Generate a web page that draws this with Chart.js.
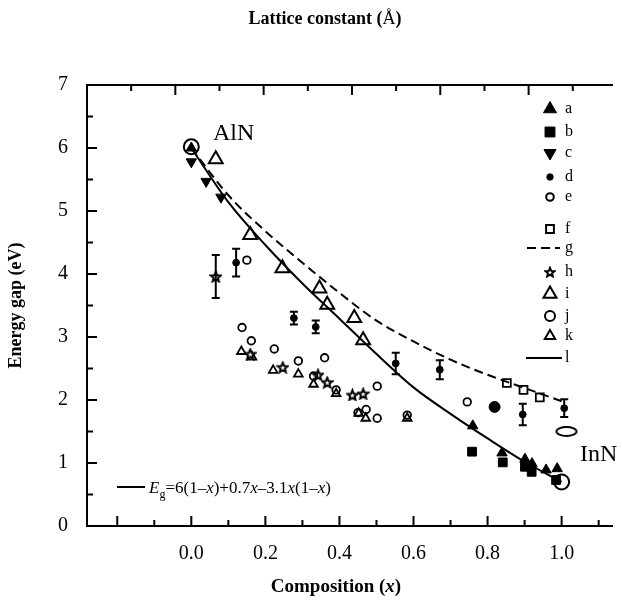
<!DOCTYPE html>
<html>
<head>
<meta charset="utf-8">
<script src="https://cdn.jsdelivr.net/npm/chart.js@4.4.0/dist/chart.umd.min.js"></script>
<style>
  html, body { margin: 0; padding: 0; background: #fff; }
</style>
</head>
<body>
<canvas id="gapChart" width="622" height="603"></canvas>
<script>
// composition x and energy gap (eV) for each data set
var aX = [0.0, 0.76, 0.839, 0.901, 0.92, 0.958, 0.988];
var aY = [6.0, 1.59, 1.16, 1.06, 0.99, 0.89, 0.91];

var bX = [0.758, 0.841, 0.901, 0.919, 0.985];
var bY = [1.18, 1.01, 0.94, 0.86, 0.73];

var cX = [0.0, 0.04, 0.08];
var cY = [5.78, 5.47, 5.22];

var dX = [0.121, 0.277, 0.336, 0.552, 0.671, 0.895, 1.007];
var dY = [4.18, 3.30, 3.16, 2.58, 2.48, 1.77, 1.87];
var dErr = [0.22, 0.10, 0.10, 0.17, 0.15, 0.17, 0.14];
var dBigX = [0.819];
var dBigY = [1.89];

var eX = [0.150, 0.137, 0.162, 0.224, 0.289, 0.36, 0.33, 0.391, 0.45, 0.472, 0.502, 0.502, 0.583, 0.745];
var eY = [4.22, 3.15, 2.94, 2.81, 2.62, 2.67, 2.38, 2.16, 1.80, 1.85, 2.22, 1.71, 1.76, 1.97];

var fX = [0.852, 0.897, 0.941];
var fY = [2.27, 2.16, 2.04];

var hX = [0.066, 0.159, 0.247, 0.342, 0.367, 0.435, 0.464];
var hY = [3.96, 2.73, 2.52, 2.40, 2.28, 2.08, 2.10];
var hErr = [0.34, 0, 0, 0, 0, 0, 0];

var iX = [0.066, 0.159, 0.246, 0.346, 0.367, 0.44, 0.464];
var iY = [5.82, 4.62, 4.09, 3.77, 3.51, 3.30, 2.95];

var jX = [0.0, 1.0];
var jY = [6.02, 0.70];
var jOvalX = [1.013];
var jOvalY = [1.50];

var kX = [0.135, 0.164, 0.221, 0.289, 0.33, 0.391, 0.452, 0.471, 0.583];
var kY = [2.77, 2.68, 2.47, 2.41, 2.25, 2.10, 1.79, 1.71, 1.71];

// g (dashed) and l (solid) curves
var curveX = [0.0, 0.1, 0.2, 0.3, 0.4, 0.5, 0.6, 0.7, 0.8, 0.9, 1.0];
var gY = [6.0, 5.25, 4.68, 4.18, 3.70, 3.26, 2.93, 2.64, 2.40, 2.19, 1.98];
var lY = [6.0, 5.14, 4.46, 3.85, 3.29, 2.73, 2.20, 1.78, 1.39, 1.02, 0.70];

var xTickLabels = ['0.0', '0.2', '0.4', '0.6', '0.8', '1.0'];
var legendKeys = ['a', 'b', 'c', 'd', 'e', 'f', 'g', 'h', 'i', 'j', 'k', 'l'];

var SERIF = "'Liberation Serif', 'Times New Roman', serif";

function pts(xs, ys) {
  return xs.map(function (x, i) { return { x: x, y: ys[i] }; });
}

function makeStar(size, lw) {
  var c = document.createElement('canvas');
  c.width = size; c.height = size;
  var g = c.getContext('2d');
  var cx = size / 2, cy = size / 2 + 0.6, R = size / 2 - lw / 2 - 0.3, r = R * 0.45;
  g.beginPath();
  for (var k = 0; k < 10; k++) {
    var ang = -Math.PI / 2 + k * Math.PI / 5;
    var rr = k % 2 ? r : R;
    g.lineTo(cx + rr * Math.cos(ang), cy + rr * Math.sin(ang));
  }
  g.closePath();
  g.fillStyle = '#fff';
  g.fill();
  g.lineWidth = lw;
  g.strokeStyle = '#000';
  g.stroke();
  return c;
}

function makeOval(w, h, lw) {
  var c = document.createElement('canvas');
  c.width = w; c.height = h;
  var g = c.getContext('2d');
  g.beginPath();
  g.ellipse(w / 2, h / 2, w / 2 - lw, h / 2 - lw, 0, 0, Math.PI * 2);
  g.lineWidth = lw;
  g.strokeStyle = '#000';
  g.stroke();
  return c;
}

var starImg = makeStar(13, 2);
var starLegend = makeStar(12, 2);
var ovalImg = makeOval(24, 13, 2);

var BLACK = '#000';
var CLEAR = 'rgba(0,0,0,0)';

var datasets = [
  { label: 'l', data: pts(curveX, lY), showLine: true, borderColor: BLACK, borderWidth: 2,
    pointRadius: 0, cubicInterpolationMode: 'monotone' },
  { label: 'g', data: pts(curveX, gY), showLine: true, borderColor: BLACK, borderWidth: 2,
    borderDash: [9, 5], pointRadius: 0, cubicInterpolationMode: 'monotone' },
  { label: 'j', data: pts(jX, jY), pointStyle: 'circle', pointRadius: 7.5,
    backgroundColor: CLEAR, borderColor: BLACK, borderWidth: 2 },
  { label: 'j', data: pts(jOvalX, jOvalY), pointStyle: ovalImg, pointRadius: 6 },
  { label: 'a', data: pts(aX, aY), pointStyle: 'triangle', pointRadius: 6,
    backgroundColor: BLACK, borderColor: BLACK, borderWidth: 1 },
  { label: 'b', data: pts(bX, bY), pointStyle: 'rect', pointRadius: 6.2,
    backgroundColor: BLACK, borderColor: BLACK, borderWidth: 1 },
  { label: 'c', data: pts(cX, cY), pointStyle: 'triangle', rotation: 180, pointRadius: 6,
    backgroundColor: BLACK, borderColor: BLACK, borderWidth: 1 },
  { label: 'd', data: pts(dX, dY), errors: dErr, pointStyle: 'circle', pointRadius: 3.4,
    backgroundColor: BLACK, borderColor: BLACK, borderWidth: 1 },
  { label: 'd', data: pts(dBigX, dBigY), pointStyle: 'circle', pointRadius: 5.5,
    backgroundColor: BLACK, borderColor: BLACK, borderWidth: 1 },
  { label: 'e', data: pts(eX, eY), pointStyle: 'circle', pointRadius: 3.8,
    backgroundColor: CLEAR, borderColor: BLACK, borderWidth: 1.8 },
  { label: 'f', data: pts(fX, fY), pointStyle: 'rect', pointRadius: 5.6,
    backgroundColor: '#fff', borderColor: BLACK, borderWidth: 1.8 },
  { label: 'h', data: pts(hX, hY), errors: hErr, pointStyle: starImg, pointRadius: 6 },
  { label: 'i', data: pts(iX, iY), pointStyle: 'triangle', pointRadius: 8,
    backgroundColor: CLEAR, borderColor: BLACK, borderWidth: 2 },
  { label: 'k', data: pts(kX, kY), pointStyle: 'triangle', pointRadius: 5,
    backgroundColor: CLEAR, borderColor: BLACK, borderWidth: 1.8 }
];

// vertical error bars with caps
var errorBars = {
  id: 'errorBars',
  afterDatasetsDraw: function (chart) {
    var ctx = chart.ctx, xs = chart.scales.x, ys = chart.scales.y;
    ctx.save();
    ctx.strokeStyle = BLACK;
    ctx.lineWidth = 2;
    chart.data.datasets.forEach(function (ds) {
      if (!ds.errors) return;
      ds.data.forEach(function (p, i) {
        var e = ds.errors[i];
        if (!e) return;
        var px = xs.getPixelForValue(p.x);
        var top = ys.getPixelForValue(p.y + e);
        var bot = ys.getPixelForValue(p.y - e);
        ctx.beginPath();
        ctx.moveTo(px, top); ctx.lineTo(px, bot);
        ctx.moveTo(px - 4, top); ctx.lineTo(px + 4, top);
        ctx.moveTo(px - 4, bot); ctx.lineTo(px + 4, bot);
        ctx.stroke();
      });
    });
    ctx.restore();
  }
};

// tick marks drawn on the inside of the frame
var innerTicks = {
  id: 'innerTicks',
  afterDraw: function (chart) {
    var ctx = chart.ctx, area = chart.chartArea;
    ctx.save();
    ctx.strokeStyle = BLACK;
    ctx.lineWidth = 2;
    ctx.beginPath();
    chart.scales.x.ticks.forEach(function (t) {
      var px = chart.scales.x.getPixelForValue(t.value);
      if (px <= area.left + 1 || px >= area.right) return;
      var len = Math.round(t.value * 10) % 2 === 0 ? 10 : 6;
      ctx.moveTo(px, area.bottom); ctx.lineTo(px, area.bottom - len);
    });
    chart.scales.xTop.ticks.forEach(function (t) {
      var px = chart.scales.xTop.getPixelForValue(t.value);
      if (px <= area.left + 1 || px >= area.right) return;
      var len = Math.round(t.value * 20) % 2 === 0 ? 10 : 6;
      ctx.moveTo(px, area.top); ctx.lineTo(px, area.top + len);
    });
    chart.scales.y.ticks.forEach(function (t) {
      var py = chart.scales.y.getPixelForValue(t.value);
      if (py <= area.top + 1 || py >= area.bottom - 1) return;
      var len = Math.round(t.value * 2) % 2 === 0 ? 10 : 6;
      ctx.moveTo(area.left, py); ctx.lineTo(area.left + len, py);
    });
    ctx.stroke();
    ctx.restore();
  }
};

function drawRuns(ctx, runs, x, y, align) {
  var total = 0;
  runs.forEach(function (r) { ctx.font = r.f; total += ctx.measureText(r.t).width; });
  var cx = align === 'center' ? x - total / 2 : x;
  runs.forEach(function (r) {
    ctx.font = r.f;
    ctx.fillText(r.t, cx, y + (r.dy || 0));
    cx += ctx.measureText(r.t).width;
  });
}

// titles, labels, formula and key
var annotations = {
  id: 'annotations',
  afterDraw: function (chart) {
    var ctx = chart.ctx;
    ctx.save();
    ctx.fillStyle = BLACK;
    ctx.textBaseline = 'alphabetic';

    var B18 = 'bold 18px ' + SERIF;
    drawRuns(ctx, [
      { t: 'Lattice constant (', f: B18 },
      { t: '\u00C5', f: '18px ' + SERIF },
      { t: ')', f: B18 }
    ], 325, 24, 'center');

    var B19 = 'bold 19px ' + SERIF;
    drawRuns(ctx, [
      { t: 'Composition (', f: B19 },
      { t: 'x', f: 'italic bold 19px ' + SERIF },
      { t: ')', f: B19 }
    ], 336, 592, 'center');

    ctx.font = '24px ' + SERIF;
    ctx.fillText('AlN', 213, 140);
    ctx.fillText('InN', 580, 461);

    // formula key in the lower left corner
    ctx.strokeStyle = BLACK;
    ctx.lineWidth = 2;
    ctx.beginPath();
    ctx.moveTo(117, 487); ctx.lineTo(145, 487);
    ctx.stroke();
    var R = '17px ' + SERIF, I = 'italic 17px ' + SERIF;
    drawRuns(ctx, [
      { t: 'E', f: I },
      { t: 'g', f: '12px ' + SERIF, dy: 5 },
      { t: '=6(1\u2013', f: R },
      { t: 'x', f: I },
      { t: ')+0.7', f: R },
      { t: 'x', f: I },
      { t: '\u20133.1', f: R },
      { t: 'x', f: I },
      { t: '(1\u2013', f: R },
      { t: 'x', f: I },
      { t: ')', f: R }
    ], 149, 493, 'left');

    // key: one row per data set
    var rowY = [109, 132, 153, 177, 197, 229, 248, 272, 294, 316, 336, 358];
    var mx = 550;
    ctx.textBaseline = 'middle';
    legendKeys.forEach(function (key, n) {
      var y = rowY[n];
      ctx.fillStyle = BLACK;
      ctx.strokeStyle = BLACK;
      ctx.setLineDash([]);
      if (key === 'g' || key === 'l') {
        ctx.lineWidth = 2;
        if (key === 'g') ctx.setLineDash([9, 5]);
        ctx.beginPath();
        ctx.moveTo(key === 'g' ? 527 : 526, y);
        ctx.lineTo(key === 'g' ? 560 : 562, y);
        ctx.stroke();
        ctx.setLineDash([]);
      } else {
        var spec = {
          a: { s: 'triangle', r: 7.5, fill: true },
          b: { s: 'rect', r: 7, fill: true },
          c: { s: 'triangle', r: 7, fill: true, rot: 180 },
          d: { s: 'circle', r: 3.2, fill: true },
          e: { s: 'circle', r: 3.8, fill: false },
          f: { s: 'rect', r: 5.5, fill: false },
          h: { s: starLegend, r: 6, fill: true },
          i: { s: 'triangle', r: 7.5, fill: false },
          j: { s: 'circle', r: 5, fill: false },
          k: { s: 'triangle', r: 6, fill: false }
        }[key];
        ctx.fillStyle = spec.fill ? BLACK : '#fff';
        ctx.lineWidth = spec.fill ? 1 : 2;
        Chart.helpers.drawPoint(ctx, {
          pointStyle: spec.s, rotation: spec.rot || 0, radius: spec.r, borderWidth: 1
        }, mx, y);
      }
      ctx.fillStyle = BLACK;
      ctx.font = '16px ' + SERIF;
      ctx.fillText(key, 565, y);
    });
    ctx.restore();
  }
};

function yTickLabel(v) {
  return Math.abs(v - Math.round(v)) < 1e-6 ? String(Math.round(v)) : '';
}

function xTickLabel(v) {
  var tenth = Math.round(v * 10);
  if (tenth < 0 || tenth % 2 !== 0) return '';
  var label = (tenth / 10).toFixed(1);
  return xTickLabels.indexOf(label) >= 0 ? label : '';
}

new Chart(document.getElementById('gapChart'), {
  type: 'scatter',
  data: { datasets: datasets },
  options: {
    responsive: false,
    animation: false,
    events: [],
    layout: { padding: 0 },
    plugins: {
      legend: { display: false },
      tooltip: { enabled: false }
    },
    scales: {
      x: {
        type: 'linear',
        position: 'bottom',
        min: -0.2817,
        max: 1.136,
        grid: { display: false, drawTicks: false },
        border: { display: true, color: BLACK, width: 2 },
        ticks: {
          stepSize: 0.1,
          includeBounds: false,
          autoSkip: false,
          maxRotation: 0,
          padding: 16,
          color: BLACK,
          font: { family: SERIF, size: 20 },
          callback: function (v) { return xTickLabel(v); }
        },
        afterFit: function (s) { s.height = 77; }
      },
      xTop: {
        type: 'linear',
        position: 'top',
        min: 3.0,
        max: 3.5944,
        grid: { display: false, drawTicks: false },
        border: { display: true, color: BLACK, width: 2 },
        ticks: { display: false, stepSize: 0.05, includeBounds: false, autoSkip: false },
        afterFit: function (s) { s.height = 85; }
      },
      y: {
        type: 'linear',
        min: 0,
        max: 7,
        grid: { display: false, drawTicks: false },
        border: { display: true, color: BLACK, width: 2 },
        ticks: {
          stepSize: 0.5,
          autoSkip: false,
          padding: 19,
          color: BLACK,
          font: { family: SERIF, size: 20 },
          callback: function (v) { return yTickLabel(v); }
        },
        title: {
          display: true,
          text: 'Energy gap (eV)',
          color: BLACK,
          font: { family: SERIF, size: 18, weight: 'bold' },
          padding: { top: 6, bottom: 0 }
        },
        afterFit: function (s) { s.width = 87; }
      }
    }
  },
  plugins: [errorBars, innerTicks, annotations]
});
</script>
</body>
</html>
